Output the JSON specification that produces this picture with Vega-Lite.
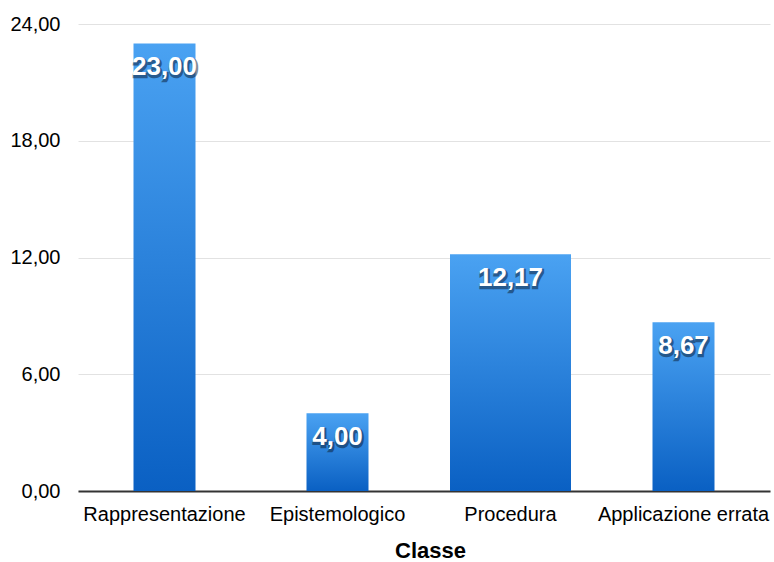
{
  "$schema": "https://vega.github.io/schema/vega-lite/v6.json",
  "autosize": {"type": "none"},
  "width": 696,
  "height": 467,
  "padding": {"left": 78, "top": 24, "right": 0, "bottom": 71},
  "background": "white",
  "config": {
    "view": {"stroke": null},
    "locale": {"number": {"decimal": ",", "thousands": ".", "grouping": [3], "currency": ["€", ""]}},
    "font": "Liberation Sans"
  },
  "data": {
    "values": [
      {"Classe": "Rappresentazione", "valore": 23.00},
      {"Classe": "Epistemologico", "valore": 4.00},
      {"Classe": "Procedura", "valore": 12.17},
      {"Classe": "Applicazione errata", "valore": 8.67}
    ]
  },
  "encoding": {
    "x": {
      "field": "Classe",
      "type": "nominal",
      "sort": null,
      "scale": {"paddingInner": 0, "paddingOuter": 0, "range": [0, 692]},
      "axis": {
        "title": "Classe",
        "titleFont": "Liberation Sans",
        "titleFontSize": 22,
        "titleFontWeight": "bold",
        "titleColor": "#000000",
        "titlePadding": 16,
        "titleX": 352,
        "labelAngle": 0,
        "labelFontSize": 20,
        "labelColor": "#000000",
        "labelPadding": 13,
        "ticks": false,
        "domainColor": "#333333",
        "domainWidth": 2,
        "labelLimit": 250
      }
    },
    "y": {
      "field": "valore",
      "type": "quantitative",
      "scale": {"domain": [0, 24], "nice": false},
      "axis": {
        "title": null,
        "values": [0, 6, 12, 18, 24],
        "format": ".2f",
        "labelFontSize": 20,
        "labelColor": "#000000",
        "labelPadding": 18,
        "ticks": false,
        "domain": false,
        "gridColor": "#e2e2e2",
        "gridWidth": 1
      }
    }
  },
  "layer": [
    {
      "mark": {
        "type": "bar",
        "color": {
          "x1": 0, "y1": 0, "x2": 0, "y2": 1,
          "gradient": "linear",
          "stops": [
            {"offset": 0, "color": "#4aa2f2"},
            {"offset": 1, "color": "#0a60c3"}
          ]
        }
      },
      "encoding": {
        "size": {
          "condition": {"test": "datum.Classe === 'Procedura'", "value": 121},
          "value": 62
        }
      }
    },
    {
      "mark": {
        "type": "text",
        "baseline": "alphabetic",
        "align": "center",
        "dx": 1,
        "dy": 34,
        "fontSize": 26,
        "fontWeight": "bold",
        "fill": "#0a1a30",
        "stroke": "#0a1a30",
        "strokeWidth": 2.5,
        "opacity": 0.5
      },
      "encoding": {"text": {"field": "valore", "type": "quantitative", "format": ".2f"}}
    },
    {
      "mark": {
        "type": "text",
        "baseline": "alphabetic",
        "align": "center",
        "dy": 32,
        "fontSize": 26,
        "fontWeight": "bold",
        "fill": "#ffffff"
      },
      "encoding": {"text": {"field": "valore", "type": "quantitative", "format": ".2f"}}
    }
  ]
}
